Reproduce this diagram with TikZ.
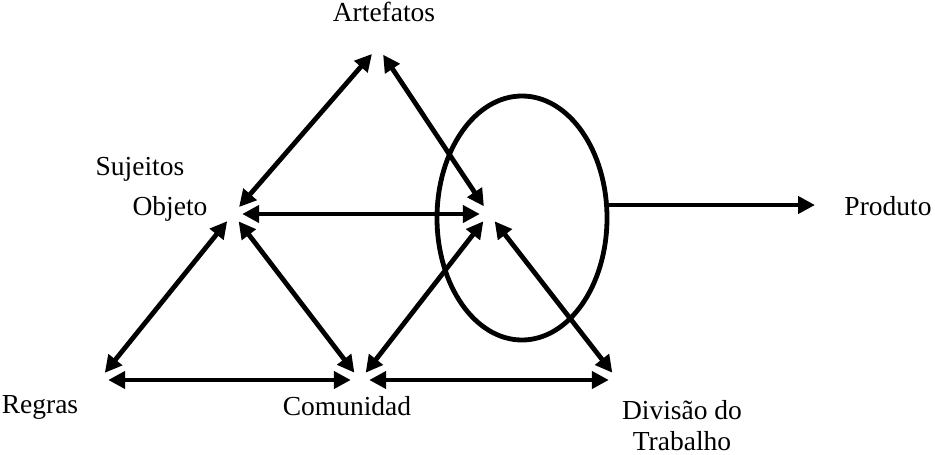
\documentclass[tikz,border=0pt]{standalone}
\usepackage{fontspec}
\setmainfont{Liberation Serif}
\usetikzlibrary{arrows.meta,shapes.geometric}
\begin{document}
\begin{tikzpicture}[x=1pt,y=-1pt,
  vtx/.style={circle,inner sep=0pt,minimum size=18pt},
  lbl/.style={anchor=base,inner sep=0pt,font=\fontsize{27.5}{32}\selectfont},
  link/.style={line width=4.8pt,{Triangle[length=17pt,width=17pt]}-{Triangle[length=17pt,width=17pt]}},
  onearrow/.style={line width=4.8pt,-{Triangle[length=17pt,width=17pt]}},
  ring/.style={ellipse,draw,line width=4.8pt,minimum width=170pt,minimum height=244pt,inner sep=0pt}]
\useasboundingbox (0,0) rectangle (935,455);
% vertices
\node[vtx] (A) at (378,47) {};
\node[vtx] (S) at (233,214) {};
\node[vtx] (O) at (489,214) {};
\node[vtx] (R) at (99,380) {};
\node[vtx] (C) at (360,380) {};
\node[vtx] (D) at (618,380) {};
% labels
\node[lbl] (tA) at (384,21) {Artefatos};
\node[lbl] (tS) at (140,175) {Sujeitos};
\node[lbl] (tO) at (170,215) {Objeto};
\node[lbl] (tR) at (40,413) {Regras};
\node[lbl] (tC) at (347,415) {Comunidad};
\node[lbl] (tD) at (682,419) {Divisão do};
\node[lbl] (tT) at (682,450) {Trabalho};
\node[lbl] (tP) at (888,215) {Produto};
% ellipse
\node[ring] (E) at (522,218) {};
% connectors
\draw[link] (S) -- (A);
\draw[link] (A) -- (O);
\draw[link] (S) -- (O);
\draw[link] (S) -- (R);
\draw[link] (S) -- (C);
\draw[link] (O) -- (C);
\draw[link] (O) -- (D);
\draw[link] (R) -- (C);
\draw[link] (C) -- (D);
\coordinate (Pend) at (815,205);
\draw[onearrow] (E.east |- Pend) -- (Pend);
\end{tikzpicture}
\end{document}
